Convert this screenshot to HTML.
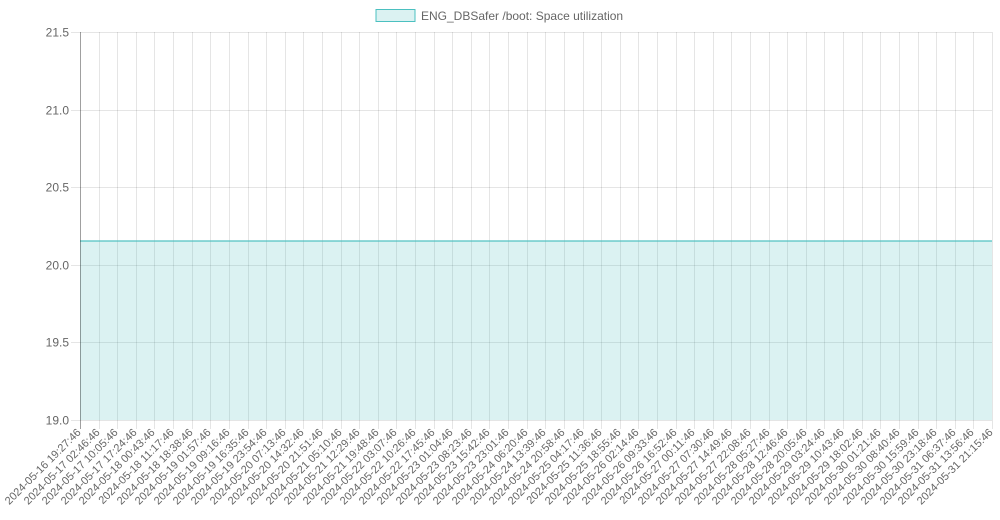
<!DOCTYPE html>
<html><head><meta charset="utf-8"><style>
html,body{margin:0;padding:0;background:#fff;}
svg{display:block;font-family:"Liberation Sans",Arial,sans-serif;}
</style></head><body>
<svg id="chart" width="1000" height="520" viewBox="0 0 1000 520">
  <g>
    <rect x="376" y="9.5" width="39" height="12" fill="rgba(75,192,192,0.2)" stroke="rgb(75,192,192)" stroke-width="1"/>
    <text x="421" y="20" font-size="12" fill="#666">ENG_DBSafer /boot: Space utilization</text>
  </g>
  <g id="grid"></g>
  <g id="marks"></g>
  <g id="axes"></g>
</svg>
<script>
const categories = ["2024-05-16 19:27:46","2024-05-17 02:46:46","2024-05-17 10:05:46","2024-05-17 17:24:46","2024-05-18 00:43:46","2024-05-18 11:17:46","2024-05-18 18:38:46","2024-05-19 01:57:46","2024-05-19 09:16:46","2024-05-19 16:35:46","2024-05-19 23:54:46","2024-05-20 07:13:46","2024-05-20 14:32:46","2024-05-20 21:51:46","2024-05-21 05:10:46","2024-05-21 12:29:46","2024-05-21 19:48:46","2024-05-22 03:07:46","2024-05-22 10:26:46","2024-05-22 17:45:46","2024-05-23 01:04:46","2024-05-23 08:23:46","2024-05-23 15:42:46","2024-05-23 23:01:46","2024-05-24 06:20:46","2024-05-24 13:39:46","2024-05-24 20:58:46","2024-05-25 04:17:46","2024-05-25 11:36:46","2024-05-25 18:55:46","2024-05-26 02:14:46","2024-05-26 09:33:46","2024-05-26 16:52:46","2024-05-27 00:11:46","2024-05-27 07:30:46","2024-05-27 14:49:46","2024-05-27 22:08:46","2024-05-28 05:27:46","2024-05-28 12:46:46","2024-05-28 20:05:46","2024-05-29 03:24:46","2024-05-29 10:43:46","2024-05-29 18:02:46","2024-05-30 01:21:46","2024-05-30 08:40:46","2024-05-30 15:59:46","2024-05-30 23:18:46","2024-05-31 06:37:46","2024-05-31 13:56:46","2024-05-31 21:15:46"];
const spaceValues = [20.15,20.15,20.15,20.15,20.15,20.15,20.15,20.15,20.15,20.15,20.15,20.15,20.15,20.15,20.15,20.15,20.15,20.15,20.15,20.15,20.15,20.15,20.15,20.15,20.15,20.15,20.15,20.15,20.15,20.15,20.15,20.15,20.15,20.15,20.15,20.15,20.15,20.15,20.15,20.15,20.15,20.15,20.15,20.15,20.15,20.15,20.15,20.15,20.15,20.15];
const yTicks = [19.0,19.5,20.0,20.5,21.0,21.5];

const NS="http://www.w3.org/2000/svg";
const L=80,R=992,T=32,B=420,yMin=19.0,yMax=21.5;
function xs(i){return L+(R-L)*i/(categories.length-1);}
function ys(v){return B-(v-yMin)/(yMax-yMin)*(B-T);}
function mk(tag,attrs,parent){const e=document.createElementNS(NS,tag);for(const k in attrs)e.setAttribute(k,attrs[k]);parent.appendChild(e);return e;}
const grid=document.getElementById('grid'),marks=document.getElementById('marks'),axes=document.getElementById('axes');

yTicks.forEach(v=>{
  const y=Math.round(ys(v))+0.5;
  const g=mk('line',{x1:71,x2:R,y1:y,y2:y,stroke:'rgba(0,0,0,0.1)','stroke-width':1},grid);
  
  
  const t=mk('text',{x:69,y:y+4,'text-anchor':'end','font-size':12,fill:'#666'},axes);
  t.textContent=v.toFixed(1);
  
  
});
categories.forEach((c,i)=>{
  const x=Math.round(xs(i))+0.5;
  const g=mk('line',{x1:x,x2:x,y1:T,y2:B+9,stroke:'rgba(0,0,0,0.1)','stroke-width':1},grid);
  
  
  const t=mk('text',{x:x+1,y:433,'text-anchor':'end','font-size':11,fill:'#666',transform:'rotate(-45 '+(x+1)+' 433)'},axes);
  t.textContent=c;
  
  
});
const yAx=mk('line',{x1:80.5,x2:80.5,y1:T,y2:B+9,stroke:'rgba(0,0,0,0.3)','stroke-width':1},axes);



let d='';
spaceValues.forEach((v,i)=>{d+=(i?'L':'M')+xs(i)+' '+(ys(v)-0.5)+' ';});
const area=mk('path',{d:d+'L'+xs(spaceValues.length-1)+' '+B+' L'+xs(0)+' '+B+' Z',fill:'rgba(75,192,192,0.2)',stroke:'none'},marks);


const line=mk('path',{d:d,fill:'none',stroke:'rgba(75,192,192,0.6)','stroke-width':2},marks);


</script>
</body></html>
